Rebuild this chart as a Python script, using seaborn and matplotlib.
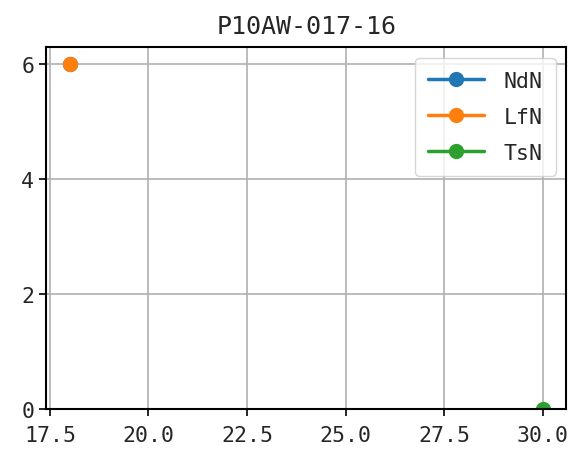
import pandas as pd
import matplotlib
matplotlib.use("Agg")
import matplotlib.pyplot as plt
from matplotlib.ticker import MultipleLocator, FormatStrFormatter
import seaborn as sns

sns.set_style("ticks")
plt.rcParams['font.family'] = ['DejaVu Sans Mono', 'DejaVu Sans']

# dane
series = ["NdN", "LfN", "TsN"]
x_vals = [18, 18, 30]
y_vals = [6, 6, 0]
colors = ["#1f77b4", "#ff7f0e", "#2ca02c"]

df = pd.DataFrame({"s": series, "x": x_vals, "y": y_vals})

fig, ax = plt.subplots(figsize=(5.75, 4.56), dpi=100)
for name, c in zip(series, colors):
    d = df[df["s"] == name]
    sns.lineplot(data=d, x="x", y="y", ax=ax, color=c, marker="o",
                 markersize=11, linewidth=2.5, markeredgewidth=0, label=name)

ax.set_ylim(bottom=0)
ax.set_yticks([0, 2, 4, 6])
ax.xaxis.set_major_locator(MultipleLocator(2.5))
ax.xaxis.set_major_formatter(FormatStrFormatter("%.1f"))
ax.grid(True, color="#b0b0b0", linewidth=1.2)
ax.set_xlabel("")
ax.set_ylabel("")
ax.tick_params(labelsize=15.5, length=5, width=1.2, color="black")
ax.tick_params(axis="x", pad=6)
for s in ax.spines.values():
    s.set_color("black")
    s.set_linewidth(1.5)
ax.set_title("P10AW-017-16", fontsize=18, pad=10)
ax.legend(loc="upper right", fontsize=15.5, framealpha=0.8, handlelength=2.6,
          labelspacing=0.75, borderpad=0.6, handletextpad=0.9)

fig.subplots_adjust(left=0.08, right=0.985, top=0.895, bottom=0.1)
fig.savefig("out.png", dpi=100)
